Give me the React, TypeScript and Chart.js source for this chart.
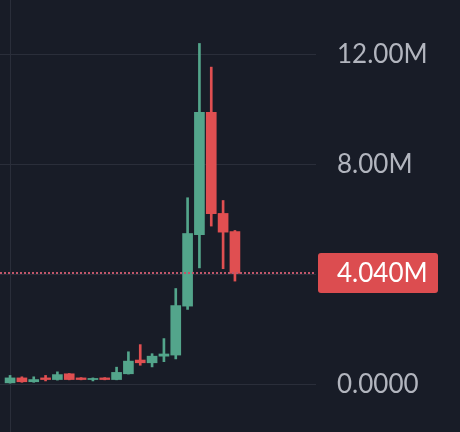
import React, { useEffect, useRef } from 'react';
import { Chart, registerables } from 'chart.js';

Chart.register(...registerables);

// values in millions
const opens = [0.06, 0.24, 0.10, 0.24, 0.18, 0.39, 0.24, 0.18, 0.24, 0.18, 0.39, 0.89, 0.79, 1.03, 1.07, 2.85, 5.45, 9.90, 6.22, 5.56];
const highs = [0.33, 0.28, 0.28, 0.33, 0.46, 0.40, 0.25, 0.24, 0.25, 0.63, 1.19, 1.45, 1.12, 1.67, 3.49, 6.79, 12.40, 11.54, 6.69, 5.60];
const lows = [0.05, 0.08, 0.08, 0.13, 0.16, 0.17, 0.17, 0.13, 0.17, 0.17, 0.38, 0.70, 0.64, 0.83, 0.93, 2.73, 4.24, 5.76, 4.21, 3.76];
const closes = [0.24, 0.10, 0.18, 0.18, 0.36, 0.18, 0.18, 0.22, 0.18, 0.44, 0.85, 0.79, 1.03, 1.11, 2.87, 5.49, 9.90, 6.21, 5.54, 4.04];
const yTickValues = [0, 4, 8, 12];

const BG = '#181c27';
const GRID = '#2a2e3a';
const GREEN = '#53a58b';
const RED = '#e04f51';
const LABEL_RED = '#dc4d50';
const TEXT = '#b2b5be';
const FONT = 'Lato, "DejaVu Sans", sans-serif';
const FONT_SIZE = 26;

function fmtTick(v: number): string {
  if (v === 0) return '0.0000';
  if (v === 4) return '';
  return v.toFixed(2) + 'M';
}

export default function App() {
  const ref = useRef<HTMLCanvasElement>(null);

  useEffect(() => {
    if (!ref.current) return;
    const idx = opens.map((_, i) => i);
    const colors = idx.map((i) => (closes[i] >= opens[i] ? GREEN : RED));
    const last = closes[closes.length - 1];

    const bgPlugin = {
      id: 'bgfill',
      beforeDraw(c: any) {
        const ctx = c.ctx;
        ctx.save();
        ctx.fillStyle = BG;
        ctx.fillRect(0, 0, c.width, c.height);
        ctx.restore();
      },
    };

    const vlinePlugin = {
      id: 'vline',
      beforeDatasetsDraw(c: any) {
        const ctx = c.ctx;
        const x = Math.round(c.scales.x.getPixelForValue(0)) + 0.5;
        ctx.save();
        ctx.strokeStyle = GRID;
        ctx.lineWidth = 1;
        ctx.beginPath();
        ctx.moveTo(x, c.chartArea.top);
        ctx.lineTo(x, c.chartArea.bottom);
        ctx.stroke();
        ctx.restore();
      },
    };

    const pricePlugin = {
      id: 'priceLine',
      afterDatasetsDraw(c: any) {
        const ctx = c.ctx;
        const y = Math.round(c.scales.y.getPixelForValue(last));
        const { left, right } = c.chartArea;
        ctx.save();
        ctx.strokeStyle = '#c0566a';
        ctx.lineWidth = 2;
        ctx.setLineDash([2, 2]);
        ctx.beginPath();
        ctx.moveTo(left, y);
        ctx.lineTo(right, y);
        ctx.stroke();
        ctx.setLineDash([]);
        const bx = right + 2;
        const bw = 120;
        const bh = 40;
        const by = y - bh / 2;
        ctx.fillStyle = LABEL_RED;
        ctx.beginPath();
        (ctx as any).roundRect(bx, by, bw, bh, 3);
        ctx.fill();
        ctx.fillStyle = '#ffffff';
        ctx.font = FONT_SIZE + 'px ' + FONT;
        ctx.textAlign = 'left';
        ctx.textBaseline = 'middle';
        ctx.fillText(last.toFixed(3) + 'M', right + 21, y + 1);
        ctx.restore();
      },
    };

    const chart = new Chart(ref.current, {
      type: 'bar',
      data: {
        datasets: [
          {
            data: idx.map((i) => ({ x: i, y: [lows[i], highs[i]] })) as any,
            backgroundColor: colors,
            borderWidth: 0,
            barThickness: 2,
            grouped: false,
            order: 2,
          } as any,
          {
            data: idx.map((i) => ({ x: i, y: [opens[i], closes[i]] })) as any,
            backgroundColor: colors,
            borderWidth: 0,
            barThickness: 10,
            grouped: false,
            order: 1,
          } as any,
        ],
      },
      options: {
        animation: false,
        responsive: false,
        devicePixelRatio: 1,
        layout: { padding: 0, autoPadding: false } as any,
        plugins: {
          legend: { display: false },
          tooltip: { enabled: false },
        },
        scales: {
          x: {
            type: 'linear',
            display: false,
            offset: false,
            min: -0.85,
            max: 25.85,
          },
          y: {
            type: 'linear',
            position: 'right',
            min: -1.727,
            max: 13.98,
            border: { display: false },
            grid: { color: GRID, drawTicks: false, lineWidth: 1 },
            afterBuildTicks: (scale: any) => {
              scale.ticks = yTickValues.map((v) => ({ value: v }));
            },
            afterFit: (scale: any) => {
              scale.width = 144;
              scale.paddingTop = 0;
              scale.paddingBottom = 0;
            },
            ticks: {
              color: TEXT,
              font: { family: FONT, size: FONT_SIZE },
              padding: 21,
              callback: (v: any) => fmtTick(Number(v)),
            },
          },
        },
      } as any,
      plugins: [bgPlugin, vlinePlugin, pricePlugin],
    });
    return () => chart.destroy();
  }, []);

  return (
    <div style={{ position: 'fixed', left: 0, top: 0, width: 460, height: 432, background: BG }}>
      <canvas ref={ref} width={460} height={432} style={{ display: 'block' }} />
    </div>
  );
}
